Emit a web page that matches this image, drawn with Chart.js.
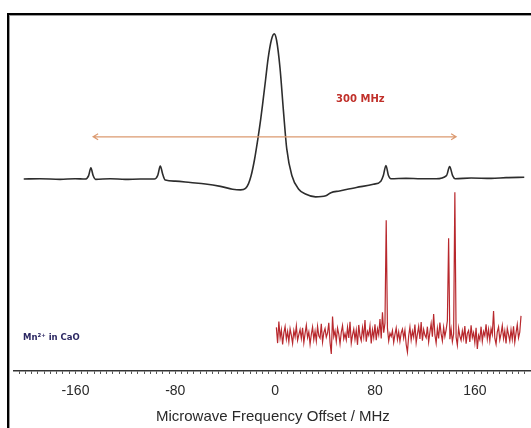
<!DOCTYPE html>
<html>
<head>
<meta charset="utf-8">
<script src="https://cdn.jsdelivr.net/npm/chart.js@4"></script>
<style>
  html, body { margin: 0; padding: 0; background: #fff; overflow: hidden; }
  #wrap { position: relative; width: 531px; height: 428px; overflow: hidden; }
  #frame { position: absolute; left: 7px; top: 13px; width: 600px; height: 500px;
    border-left: 2px solid #000; border-top: 2px solid #000; box-shadow: inset 1px 1px 0 #9a9a9a; }
  canvas { position: absolute; left: 0; top: 0; }
</style>
</head>
<body>
<!-- canvas is wider than the window: the tick padding Chart.js keeps at the right edge falls outside -->
<div id="wrap"><div id="frame"></div><canvas id="chart" width="541" height="428"></canvas></div>
<script>
// Top trace: field-swept spectrum (offset in MHz, intensity in arbitrary units)
const topFreq = [-201.4, -188.4, -172.3, -160.2, -152.2, -149.4, -147.6, -145.8, -143.8, -132.1,
  -120.1, -108.0, -96.8, -94.0, -92.0, -90.0, -88.0, -79.9, -67.9, -55.8,
  -43.8, -34.1, -27.7, -23.7, -21.3, -19.2, -16.5, -13.7, -11.6, -9.7,
  -7.6, -5.6, -2.9, -0.7, 1.2, 3.9, 6.7, 9.3, 13.4, 18.9,
  24.3, 32.4, 40.6, 44.7, 51.5, 65.1, 78.7, 84.7, 86.7, 88.8,
  90.8, 92.8, 104.8, 116.9, 128.9, 137.3, 139.8, 142.2, 144.2, 157.0,
  173.1, 185.1, 199.6];
const topSignal = [55.0, 55.1, 54.9, 55.1, 55.0, 56.0, 58.2, 56.0, 54.9, 55.1,
  54.9, 55.0, 55.0, 56.1, 58.7, 56.3, 54.7, 54.4, 54.0, 53.6,
  52.9, 52.1, 51.9, 52.3, 53.7, 56.0, 60.6, 66.8, 72.0, 77.4,
  83.6, 89.6, 95.0, 96.6, 94.7, 86.9, 74.4, 63.7, 56.0, 52.1,
  50.7, 49.9, 50.2, 51.1, 51.6, 52.6, 53.5, 54.4, 56.0, 58.9,
  56.0, 55.1, 55.2, 55.1, 55.1, 56.0, 58.6, 56.0, 55.1, 55.3,
  55.2, 55.4, 55.5];

// Bottom trace: Mn2+ in CaO, sampled every 1 MHz from 1 MHz
const noiseStart = 1;
const noiseStep = 1;
const noiseSignal = [
  12.5, 8.0, 14.2, 9.5, 11.8, 7.6, 10.9, 12.7, 9.1, 11.3, 8.4, 12.1, 10.2, 7.9, 11.6, 9.8, 12.9, 8.8, 10.4, 11.9,
  9.3, 12.4, 8.1, 10.8, 13.1, 9.6, 11.2, 7.7, 10.5, 12.6, 9.0, 11.4, 8.6, 12.8, 10.1, 9.4, 13.5, 8.3, 11.0, 12.2,
  9.7, 10.9, 13.8, 8.2, 4.9, 15.6, 9.9, 11.5, 8.5, 12.3, 10.6, 7.8, 11.1, 13.0, 9.2, 10.7, 8.9, 12.5, 9.5, 14.1,
  8.0, 10.3, 12.0, 9.1, 11.7, 7.5, 13.2, 10.0, 8.7, 12.4, 9.8, 14.6, 8.4, 11.3, 10.2, 12.9, 7.9, 11.8, 9.6, 13.4,
  8.8, 12.1, 10.4, 14.9, 9.3, 16.8, 11.0, 13.7, 43.2, 12.2, 8.6, 10.8, 9.9, 11.6, 8.2, 10.5, 12.3, 9.0, 11.2, 8.5,
  10.9, 12.0, 9.4, 11.7, 7.6, 5.4, 10.1, 12.6, 8.9, 11.4, 9.7, 13.3, 8.1, 10.6, 12.8, 9.2, 14.0, 8.7, 11.9, 10.3,
  9.5, 12.7, 8.3, 11.1, 13.6, 9.8, 16.3, 10.4, 8.0, 12.2, 9.3, 13.9, 10.7, 8.6, 12.5, 9.9, 11.8, 14.4, 38.0, 9.1,
  12.0, 8.4, 10.6, 51.2, 9.7, 7.4, 12.3, 10.0, 8.8, 11.5, 9.4, 12.9, 7.8, 10.8, 11.6, 8.3, 13.1, 9.6, 11.0, 8.1,
  12.4, 6.3, 10.2, 9.0, 12.7, 8.5, 11.3, 10.1, 13.4, 9.2, 11.9, 8.7, 12.1, 10.5, 17.2, 9.4, 7.7, 11.2, 12.6, 8.9,
  10.7, 13.0, 9.3, 11.5, 7.9, 12.2, 10.4, 8.6, 11.8, 9.1, 12.8, 8.2, 10.9, 13.3, 9.5, 11.1, 15.8];

// Axis
const xMin = -209.6;
const xMax = 206.0;
const majorTicks = [-160, -80, 0, 80, 160];

// Annotations (data units)
const spanFrom = -145.8, spanTo = 145.0, spanLevel = 67.1;
const spanLabel = '300 MHz', spanLabelX = 68.3, spanLabelY = 77.9;
const sampleLabel = 'Mn²⁺ in CaO', sampleLabelX = -202, sampleLabelY = 9.5;

const notes = {
  id: 'notes',
  afterDatasetsDraw(chart) {
    const { ctx, scales: { x, y } } = chart;
    ctx.save();
    const x1 = x.getPixelForValue(spanFrom);
    const x2 = x.getPixelForValue(spanTo);
    const ya = y.getPixelForValue(spanLevel);
    ctx.strokeStyle = '#dc9a70';
    ctx.lineWidth = 1.2;
    ctx.beginPath();
    ctx.moveTo(x1, ya); ctx.lineTo(x2, ya);
    ctx.moveTo(x1 + 5, ya - 3); ctx.lineTo(x1, ya); ctx.lineTo(x1 + 5, ya + 3);
    ctx.moveTo(x2 - 5, ya - 3); ctx.lineTo(x2, ya); ctx.lineTo(x2 - 5, ya + 3);
    ctx.stroke();

    ctx.fillStyle = '#c0302a';
    ctx.font = 'bold 10px "DejaVu Sans"';
    ctx.textAlign = 'center';
    ctx.textBaseline = 'middle';
    ctx.fillText(spanLabel, x.getPixelForValue(spanLabelX), y.getPixelForValue(spanLabelY));

    ctx.fillStyle = '#2b2762';
    ctx.font = 'bold 8.5px "DejaVu Sans"';
    ctx.textAlign = 'left';
    ctx.fillText(sampleLabel, x.getPixelForValue(sampleLabelX), y.getPixelForValue(sampleLabelY));
    ctx.restore();
  }
};

new Chart(document.getElementById('chart'), {
  type: 'line',
  data: {
    datasets: [
      {
        data: topFreq.map((f, i) => ({ x: f, y: topSignal[i] })),
        borderColor: '#2d2d2d',
        borderWidth: 1.6,
        pointRadius: 0,
        cubicInterpolationMode: 'monotone',
        fill: false,
      },
      {
        data: noiseSignal.map((v, i) => ({ x: noiseStart + i * noiseStep, y: v })),
        borderColor: '#b8282d',
        borderWidth: 1.2,
        pointRadius: 0,
        tension: 0,
        fill: false,
      },
    ],
  },
  options: {
    responsive: false,
    animation: false,
    devicePixelRatio: 1,
    layout: { padding: { left: 13.5, right: 0, top: 22, bottom: 0 } },
    plugins: { legend: { display: false }, tooltip: { enabled: false } },
    scales: {
      x: {
        type: 'linear',
        min: xMin,
        max: xMax,
        ticks: {
          stepSize: 5,
          autoSkip: false,
          maxRotation: 0,
          includeBounds: false,
          padding: 10,
          color: '#2a2a2a',
          font: { family: '"Liberation Sans"', size: 14, lineHeight: 1.0 },
          callback: (v) => (majorTicks.includes(Math.round(v)) && Math.abs(v - Math.round(v)) < 1e-6 ? String(Math.round(v)) : ''),
        },
        grid: { drawOnChartArea: false, drawTicks: true, tickLength: 3, color: '#555' },
        border: { display: true, color: '#333', width: 1.5 },
        title: {
          display: true,
          text: 'Microwave Frequency Offset / MHz',
          color: '#2a2a2a',
          font: { family: '"Liberation Sans"', size: 15 },
          padding: { top: 0, bottom: 2 },
        },
      },
      y: { display: false, min: 0, max: 100 },
    },
  },
  plugins: [notes],
});
</script>
</body>
</html>
